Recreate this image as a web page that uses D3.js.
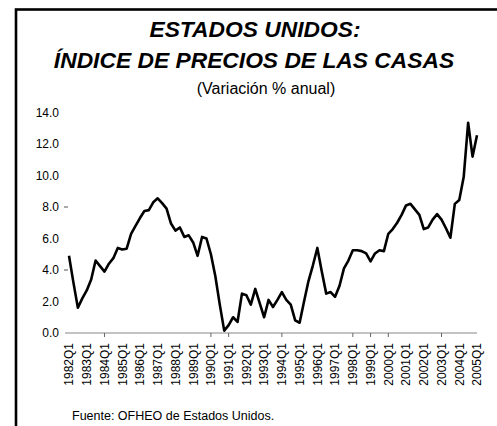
<!DOCTYPE html>
<html>
<head>
<meta charset="utf-8">
<script src="https://cdn.jsdelivr.net/npm/d3@7"></script>
<style>
  body { margin: 0; background: #fff; }
  svg { display: block; font-family: "Liberation Sans", Arial, sans-serif; }
</style>
</head>
<body>
<div id="chart"></div>
<script>
// quarterly series, 1982Q1 .. 2005Q1
const years = d3.range(1982, 2006);
const quarters = [];
years.forEach(y => [1, 2, 3, 4].forEach(q => { if (y < 2005 || q === 1) quarters.push(y + "Q" + q); }));

const values = [
  4.9, 3.2, 1.6, 2.2, 2.7, 3.4, 4.6, 4.25, 3.9, 4.4, 4.75, 5.4, 5.3, 5.35, 6.3, 6.8,
  7.3, 7.75, 7.8, 8.3, 8.55, 8.25, 7.9, 6.95, 6.5, 6.7, 6.1, 6.2, 5.75, 4.9, 6.1, 6.0,
  5.0, 3.6, 1.8, 0.15, 0.5, 1.0, 0.7, 2.5, 2.4, 1.8, 2.8, 1.9, 1.0, 2.1, 1.65, 2.1,
  2.6, 2.1, 1.8, 0.8, 0.65, 2.0, 3.3, 4.3, 5.4, 3.9, 2.5, 2.6, 2.3, 3.0, 4.1, 4.6,
  5.25, 5.25, 5.2, 5.05, 4.55, 5.05, 5.25, 5.2, 6.3, 6.6, 7.0, 7.5, 8.1, 8.2, 7.85, 7.5,
  6.6, 6.7, 7.2, 7.55, 7.2, 6.65, 6.05, 8.2, 8.45, 9.9, 13.35, 11.2, 12.55
];

const yTicks = [0, 2, 4, 6, 8, 10, 12, 14];
const yDashTicks = [4, 8];
const xLabels = quarters.filter(q => q.endsWith("Q1"));
const xTickMarks = ["1984Q1", "1990Q1", "1991Q1", "1994Q1", "1998Q1", "1999Q1", "2000Q1", "2003Q1"];

const width = 497, height = 426;

const svg = d3.select("#chart").append("svg")
  .attr("width", width)
  .attr("height", height);

// frame (right and bottom run off the picture)
svg.append("rect")
  .attr("x", 16).attr("y", 9.5)
  .attr("width", 600).attr("height", 600)
  .attr("fill", "none")
  .attr("stroke", "#000")
  .attr("stroke-width", 2.6);

// titles
svg.append("text")
  .attr("x", 255).attr("y", 37)
  .attr("text-anchor", "middle")
  .style("font-size", "22.8px").style("font-weight", "bold").style("font-style", "italic")
  .text("ESTADOS UNIDOS:");
svg.append("text")
  .attr("x", 254).attr("y", 68)
  .attr("text-anchor", "middle")
  .style("font-size", "22.8px").style("font-weight", "bold").style("font-style", "italic")
  .text("ÍNDICE DE PRECIOS DE LAS CASAS");
svg.append("text")
  .attr("x", 266).attr("y", 94)
  .attr("text-anchor", "middle")
  .style("font-size", "16px")
  .text("(Variación % anual)");

const x = d3.scalePoint()
  .domain(quarters)
  .range([69, 477]);

const y = d3.scaleLinear()
  .domain([0, 14])
  .range([333, 112.5]);

// y labels
svg.append("g").selectAll("text")
  .data(yTicks)
  .enter().append("text")
  .attr("x", 59)
  .attr("y", d => y(d))
  .attr("dy", "0.35em")
  .attr("text-anchor", "end")
  .style("font-size", "12px")
  .text(d => d3.format(".1f")(d));

svg.append("g").selectAll("line")
  .data(yDashTicks)
  .enter().append("line")
  .attr("x1", 64).attr("x2", 68)
  .attr("y1", d => y(d)).attr("y2", d => y(d))
  .attr("stroke", "#555").attr("stroke-width", 1);

// x axis
svg.append("line")
  .attr("x1", 65).attr("x2", 477)
  .attr("y1", y(0)).attr("y2", y(0))
  .attr("stroke", "#888").attr("stroke-width", 1.2);

svg.append("g").selectAll("line")
  .data(xTickMarks)
  .enter().append("line")
  .attr("x1", d => x(d)).attr("x2", d => x(d))
  .attr("y1", y(0)).attr("y2", y(0) + 4)
  .attr("stroke", "#666").attr("stroke-width", 1);

svg.append("g").selectAll("text")
  .data(xLabels)
  .enter().append("text")
  .attr("transform", d => `translate(${x(d)},343) rotate(-90)`)
  .attr("dy", "0.36em")
  .attr("text-anchor", "end")
  .style("font-size", "12px")
  .text(d => d);

// series
const line = d3.line()
  .x((d, i) => x(quarters[i]))
  .y(d => y(d));

svg.append("path")
  .datum(values)
  .attr("d", line)
  .attr("fill", "none")
  .attr("stroke", "#000")
  .attr("stroke-width", 2.6)
  .attr("stroke-linejoin", "round");

// source
svg.append("text")
  .attr("x", 72).attr("y", 420)
  .style("font-size", "12.5px")
  .text("Fuente: OFHEO de Estados Unidos.");
</script>
</body>
</html>
